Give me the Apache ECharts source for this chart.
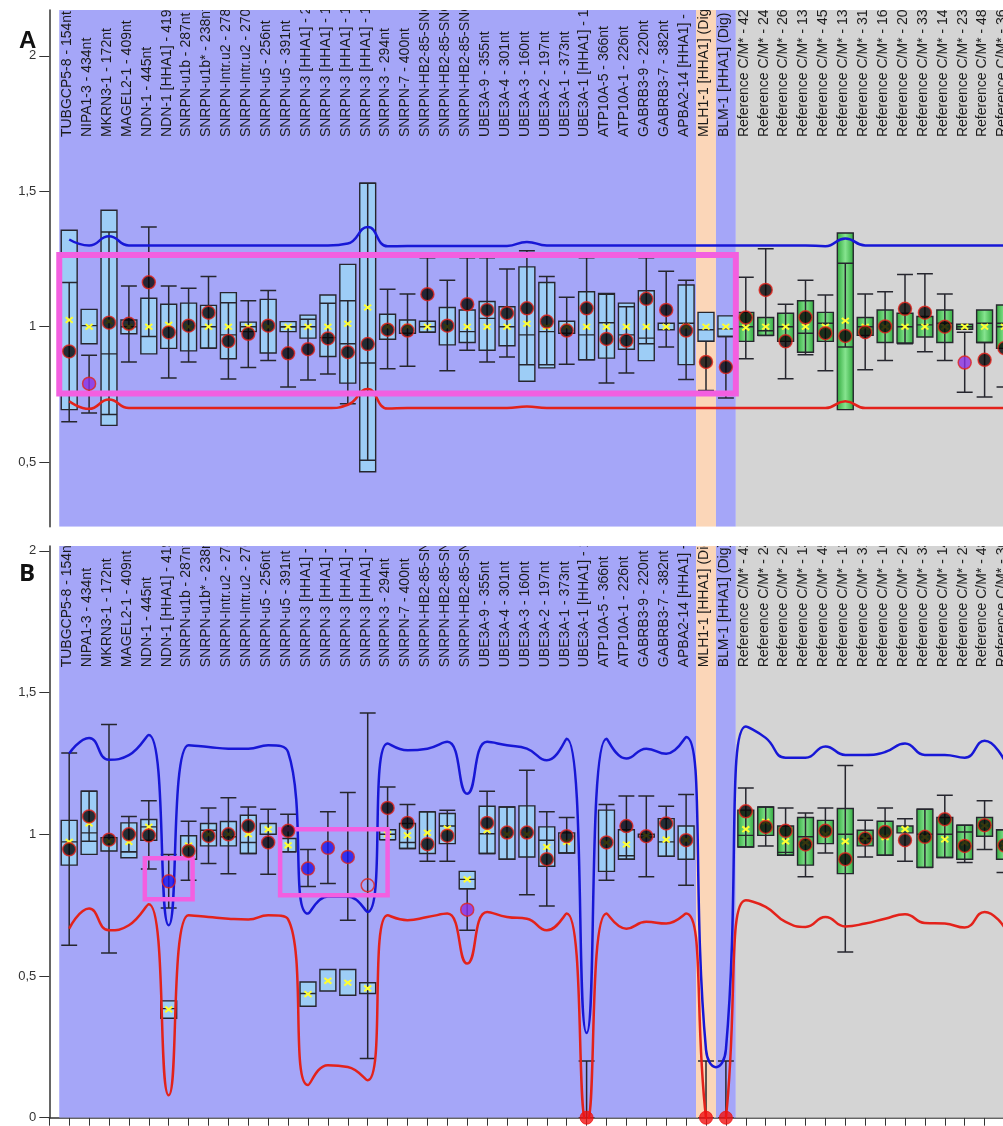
<!DOCTYPE html>
<html>
<head>
<meta charset="utf-8">
<script src="https://cdn.jsdelivr.net/npm/echarts@6/dist/echarts.min.js"></script>
<style>
  html, body { margin: 0; padding: 0; background: #ffffff; }
  #chart { width: 1003px; height: 1126px; }
</style>
</head>
<body>
<div id="chart"></div>
<script>
// Probe names, one per column
const probeLabels = [
  'TUBGCP5-8 - 154nt', 'NIPA1-3 - 434nt', 'MKRN3-1 - 172nt', 'MAGEL2-1 - 409nt',
  'NDN-1 - 445nt', 'NDN-1 [HHA1] - 419nt', 'SNRPN-u1b - 287nt', 'SNRPN-u1b* - 238nt',
  'SNRPN-Intr.u2 - 278nt', 'SNRPN-Intr.u2 - 270nt', 'SNRPN-u5 - 256nt', 'SNRPN-u5 - 391nt',
  'SNRPN-3 [HHA1] - 220nt', 'SNRPN-3 [HHA1] - 175nt', 'SNRPN-3 [HHA1] - 142nt', 'SNRPN-3 [HHA1] - 199nt',
  'SNRPN-3 - 294nt', 'SNRPN-7 - 400nt', 'SNRPN-HB2-85-SNORD116 - 130nt', 'SNRPN-HB2-85-SNORD116 - 166nt',
  'SNRPN-HB2-85-SNORD116 - 184nt', 'UBE3A-9 - 355nt', 'UBE3A-4 - 301nt', 'UBE3A-3 - 160nt',
  'UBE3A-2 - 197nt', 'UBE3A-1 - 373nt', 'UBE3A-1 [HHA1] - 148nt', 'ATP10A-5 - 366nt',
  'ATP10A-1 - 226nt', 'GABRB3-9 - 220nt', 'GABRB3-7 - 382nt', 'APBA2-14 [HHA1] - 337nt',
  'MLH1-1 [HHA1] (Dig) - 463nt', 'BLM-1 [HHA1] (Dig) - 319nt', 'Reference C/M* - 427nt', 'Reference C/M* - 244nt',
  'Reference C/M* - 265nt', 'Reference C/M* - 136nt', 'Reference C/M* - 454nt', 'Reference C/M* - 130nt',
  'Reference C/M* - 315nt', 'Reference C/M* - 160nt', 'Reference C/M* - 202nt', 'Reference C/M* - 337nt',
  'Reference C/M* - 142nt', 'Reference C/M* - 238nt', 'Reference C/M* - 481nt', 'Reference C/M* - 361nt'
];
// t = target probe, d = digestion control, r = reference probe
const probeGroup = [
  't','t','t','t','t','t','t','t','t','t','t','t',
  't','t','t','t','t','t','t','t','t','t','t','t',
  't','t','t','t','t','t','t','t','d','t','r','r',
  'r','r','r','r','r','r','r','r','r','r','r','r'
];

// ---- Sample A ----
const aBoxLow = [0.694,0.937,0.636,0.974,0.900,0.920,0.911,0.921,0.882,0.982,0.903,0.982,
                 0.958,0.890,0.792,0.465,0.954,0.976,0.980,0.933,0.942,0.913,0.930,0.799,
                 0.848,0.976,0.878,0.884,0.917,0.875,0.989,0.860,0.946,0.964,0.946,0.968,
                 0.946,0.906,0.946,0.694,0.968,0.942,0.940,0.962,0.942,0.991,0.942,0.920];
const aBoxHigh = [1.356,1.064,1.430,1.025,1.105,1.083,1.087,1.079,1.126,1.017,1.101,1.019,
                  1.043,1.117,1.230,1.530,1.046,1.025,1.020,1.071,1.062,1.093,1.074,1.221,
                  1.163,1.020,1.129,1.123,1.087,1.133,1.013,1.154,1.053,1.040,1.053,1.034,
                  1.050,1.096,1.053,1.346,1.034,1.062,1.050,1.038,1.062,1.009,1.062,1.080];
const aBoxMid = [null,1.004,0.900,1.000,null,null,null,1.000,0.970,1.000,null,1.000,
                 1.000,0.960,0.937,0.866,null,null,1.000,null,0.982,1.031,1.000,0.970,
                 0.982,null,0.970,1.015,0.970,0.958,null,1.013,0.989,0.992,1.000,0.985,
                 1.000,0.976,1.013,null,1.000,null,1.000,1.007,1.013,1.000,1.013,1.013];
const aRangeLow = [0.649,0.682,0.676,0.870,0.964,0.811,0.870,0.921,0.807,0.850,0.875,0.778,
                   0.803,0.826,0.716,0.507,0.845,0.854,0.980,0.838,0.913,0.870,0.888,0.860,
                   0.860,0.862,0.878,0.792,0.829,0.937,0.925,0.805,0.765,0.737,0.882,0.968,
                   0.808,0.897,0.838,0.925,0.841,0.875,0.937,0.908,0.875,0.758,0.741,0.778];
const aRangeHigh = [1.163,0.895,1.350,1.150,1.368,1.150,1.142,1.185,1.089,1.096,1.134,1.000,
                    1.028,1.087,1.096,1.530,1.138,1.121,1.255,1.172,1.255,1.255,1.213,1.280,
                    1.185,1.109,1.255,1.120,1.074,1.255,1.205,1.172,0.946,0.964,1.183,1.288,
                    1.083,1.172,1.117,1.234,1.121,1.129,1.193,1.196,1.121,0.980,0.942,1.000];
const aMean = [1.025,1.000,1.020,1.000,1.000,1.007,1.000,1.000,1.000,1.000,1.000,1.000,
               1.000,1.000,1.011,1.071,1.000,1.000,1.000,1.000,1.000,1.000,1.000,1.011,
               1.000,1.000,1.000,1.000,1.000,1.000,1.000,1.000,1.000,1.000,0.997,1.000,
               1.000,1.000,1.000,1.022,1.000,1.000,1.000,1.000,1.000,1.000,1.000,1.000];
const aSample = [0.909,0.790,1.015,1.011,1.164,0.979,1.004,1.052,0.947,0.974,1.004,0.902,
                 0.917,0.957,0.906,0.936,0.989,0.986,1.120,1.004,1.083,1.062,1.050,1.068,
                 1.019,0.986,1.068,0.955,0.949,1.103,1.062,0.986,0.870,0.851,1.034,1.136,
                 0.946,1.035,0.976,0.966,0.980,1.001,1.066,1.052,1.000,0.868,0.878,0.921];
// k = normal, p = flagged, b = low, o = unreliable, r = no signal
const aSampleKind = ('kpkkkkkkkkkk' + 'kkkkkkkkkkkk' + 'kkkkkkkkkkkk' + 'kkkkkkkkkpkk').split('');
const aUpperLimit = [1.322,1.300,1.334,1.300,1.300,1.300,1.300,1.300,1.300,1.300,1.300,1.300,
                     1.300,1.300,1.307,1.368,1.297,1.298,1.298,1.298,1.298,1.298,1.298,1.313,
                     1.300,1.300,1.300,1.300,1.300,1.300,1.300,1.300,1.300,1.300,1.300,1.300,
                     1.300,1.300,1.297,1.326,1.300,1.300,1.300,1.300,1.300,1.300,1.300,1.300];
const aLowerLimit = [0.725,0.697,0.731,0.700,0.700,0.700,0.700,0.700,0.700,0.700,0.700,0.700,
                     0.700,0.700,0.712,0.770,0.698,0.700,0.700,0.700,0.700,0.700,0.700,0.706,
                     0.700,0.700,0.700,0.700,0.700,0.700,0.700,0.700,0.700,0.700,0.700,0.700,
                     0.700,0.700,0.700,0.725,0.700,0.700,0.700,0.700,0.700,0.700,0.700,0.700];
const aHighlights = [{ from: 0.5, to: 34.5, low: 0.754, high: 1.265 }];

// ---- Sample B ----
const bBoxLow = [0.891,0.929,0.941,0.917,0.979,0.351,0.912,0.959,0.959,0.932,1.000,0.938,
                 0.393,0.447,0.432,0.438,0.981,0.950,0.932,0.967,0.808,0.932,0.912,0.920,
                 0.887,0.934,null,0.869,0.912,0.990,0.922,0.912,null,null,0.955,0.996,
                 0.926,0.891,0.967,0.861,0.959,0.926,1.005,0.883,0.918,0.912,0.993,0.912];
const bBoxHigh = [1.049,1.152,0.988,1.040,1.052,0.412,0.995,1.038,1.045,1.067,1.038,0.985,
                  0.479,0.523,0.523,0.476,1.016,1.038,1.079,1.073,0.869,1.099,1.096,1.100,
                  1.026,1.005,null,1.085,1.016,1.000,1.055,1.029,null,null,1.085,1.096,
                  1.029,1.059,1.049,1.091,1.014,1.046,1.029,1.088,1.059,1.032,1.059,1.016];
const bBoxMid = [0.973,1.005,null,0.938,1.026,0.385,null,1.014,0.991,0.971,null,null,
                 0.438,null,null,null,1.000,0.971,null,1.029,0.841,1.002,null,null,
                 0.979,null,null,null,0.924,null,0.973,null,null,null,0.996,null,
                 0.936,0.991,null,1.000,0.985,null,null,1.000,1.000,1.008,null,null];
const bRangeLow = [0.608,0.975,0.581,0.938,0.877,0.740,0.838,0.897,0.861,0.932,0.859,0.938,
                   0.816,0.826,0.697,0.209,0.981,0.950,0.905,0.905,0.661,0.932,0.912,0.787,
                   0.747,0.934,0.000,0.838,0.912,0.850,0.922,0.820,0.000,0.000,0.955,0.959,
                   0.926,0.850,0.934,0.585,0.920,0.926,0.905,0.883,0.918,0.900,0.946,0.865];
const bRangeHigh = [1.287,1.152,1.387,1.063,1.118,0.929,1.046,1.093,1.129,1.096,1.088,1.071,
                    0.946,1.079,1.147,1.428,1.167,1.105,1.079,1.085,0.808,1.152,1.096,1.226,
                    1.079,1.059,0.200,1.105,1.135,1.135,1.099,1.140,0.200,0.200,1.163,1.096,
                    1.093,1.075,1.093,1.243,1.049,1.093,1.055,1.088,1.138,1.032,1.118,1.016];
const bMean = [0.973,1.038,0.975,0.973,1.026,0.382,0.960,1.000,1.000,1.000,1.017,0.961,
               0.436,0.483,0.476,0.456,1.000,0.996,1.005,1.020,0.841,1.014,1.000,1.000,
               0.955,0.973,null,0.970,0.964,0.995,0.981,0.980,null,null,1.018,1.044,
               0.975,0.970,1.000,0.975,0.985,0.990,1.018,0.990,0.982,0.970,1.030,0.960];
const bSample = [0.947,1.063,0.981,1.000,0.996,0.834,0.941,0.994,1.000,1.029,0.971,1.012,
                 0.879,0.952,0.920,0.820,1.093,1.040,0.965,0.995,0.734,1.040,1.006,1.006,
                 0.912,0.993,0.000,0.971,1.029,0.993,1.038,0.979,0.000,0.000,1.081,1.026,
                 1.012,0.964,1.012,0.912,0.985,1.008,0.979,0.991,1.053,0.959,1.032,0.961];
const bSampleKind = ('kkkkkbkkkkkk' + 'bbbokkkkpkkk' + 'kkrkkkkkrrkk' + 'kkkkkkkkkkkk').split('');
const bUpperLimit = [1.285,1.340,1.263,1.279,1.350,0.679,1.314,1.308,1.302,1.302,1.314,1.290,
                     0.720,0.780,0.780,0.726,1.320,1.296,1.302,1.326,1.143,1.326,1.314,1.302,
                     1.261,1.337,0.299,1.337,1.267,1.302,1.284,1.343,0.240,0.240,1.380,1.340,
                     1.270,1.270,1.310,1.280,1.280,1.290,1.320,1.280,1.280,1.270,1.330,1.260];
const bUpperBetween = [[33.5, 0.178]];
const bLowerLimit = [0.667,0.738,0.661,0.679,0.753,0.079,0.714,0.708,0.702,0.699,0.714,0.700,
                     0.115,0.185,0.179,0.132,0.714,0.697,0.708,0.720,0.544,0.726,0.708,0.702,
                     0.661,0.720,-0.020,0.720,0.667,0.691,0.685,0.720,0.000,0.000,0.767,0.744,
                     0.691,0.673,0.708,0.675,0.685,0.702,0.718,0.687,0.685,0.671,0.726,0.671];
const bLowerBetween = [[33.5, -0.200]];
const bHighlights = [
  { from: 4.8, to: 7.2, low: 0.771, high: 0.915 },
  { from: 11.6, to: 17.0, low: 0.785, high: 1.018 }
];

const yTicks = [0.5, 1, 1.5, 2];
const X_MAX = 49;

// ---- styling ----
const FONT = '"Liberation Sans", Arial, Helvetica, sans-serif';
const groupColor = { t: '#a5a6f8', d: '#fbd6b8', r: '#d4d4d4' };
const INK = '#26262e';
const PINK = '#f35fe0';
const dotStyle = {
  k: { color: '#050505', borderColor: '#e2231c', borderWidth: 1.5 },
  p: { color: '#8a2fe4', borderColor: '#e2231c', borderWidth: 1.5 },
  b: { color: '#1515ee', borderColor: '#e2231c', borderWidth: 1.5 },
  o: { color: 'rgba(0,0,0,0)', borderColor: '#e2231c', borderWidth: 1.5 },
  r: { color: '#f01212', borderColor: '#f01212', borderWidth: 1 }
};

const panels = [
  { grid: { left: 49.3, top: 10, width: 19.9 * X_MAX, height: 516.7, outerBoundsMode: 'none' },
    yMin: 0.262, yMax: 2.169, showX: false, labelBase: 1.70, pinkWidth: 6,
    boxLow: aBoxLow, boxHigh: aBoxHigh, boxMid: aBoxMid, rangeLow: aRangeLow, rangeHigh: aRangeHigh,
    mean: aMean, sample: aSample, kind: aSampleKind, upper: aUpperLimit, upperExtra: [],
    lower: aLowerLimit, lowerExtra: [], highlights: aHighlights },
  { grid: { left: 49.3, top: 546, width: 19.9 * X_MAX, height: 571.7, outerBoundsMode: 'none' },
    yMin: 0, yMax: 2.017, showX: true, labelBase: 1.589, pinkWidth: 4.5,
    boxLow: bBoxLow, boxHigh: bBoxHigh, boxMid: bBoxMid, rangeLow: bRangeLow, rangeHigh: bRangeHigh,
    mean: bMean, sample: bSample, kind: bSampleKind, upper: bUpperLimit, upperExtra: bUpperBetween,
    lower: bLowerLimit, lowerExtra: bLowerBetween, highlights: bHighlights }
];

// contiguous runs of the same probe group, as [start, end, group] in axis units
function groupRuns() {
  const runs = [];
  let start = 0;
  for (let i = 1; i <= probeGroup.length; i++) {
    if (i === probeGroup.length || probeGroup[i] !== probeGroup[start]) {
      runs.push([start + 0.5, i + 0.5, probeGroup[start]]);
      start = i;
    }
  }
  runs[runs.length - 1][1] = X_MAX;
  return runs;
}
const runs = groupRuns();
const positions = probeLabels.map((_, i) => [i + 1, 1]);

const greenFill = new echarts.graphic.LinearGradient(0, 0, 1, 0, [
  { offset: 0, color: '#2ea83b' }, { offset: 0.5, color: '#86e48f' }, { offset: 1, color: '#2ea83b' }
]);

function line(x1, y1, x2, y2, stroke, w) {
  return { type: 'line', shape: { x1, y1, x2, y2 }, style: { stroke, lineWidth: w } };
}

function boxRenderer(P) {
  return function (params, api) {
    const i = params.dataIndex;
    const pos = api.value(0);
    const w = api.size([1, 0])[0] * 0.8;
    const h = w / 2;
    const cx = api.coord([pos, 1])[0];
    const y = v => api.coord([pos, v])[1];
    const kids = [];
    if (P.boxLow[i] != null) {
      const top = y(P.boxHigh[i]), bot = y(P.boxLow[i]);
      kids.push({ type: 'rect', shape: { x: cx - h, y: top, width: w, height: bot - top },
        style: { fill: probeGroup[i] === 'r' ? greenFill : '#9dcdf6', stroke: INK, lineWidth: 1.4 } });
      if (P.boxMid[i] != null) {
        const ym = y(P.boxMid[i]);
        kids.push(line(cx - h, ym, cx + h, ym, INK, 1.4));
      }
    }
    if (P.rangeLow[i] != null) {
      const yh = y(P.rangeHigh[i]), yl = y(P.rangeLow[i]);
      kids.push(line(cx, yh, cx, yl, INK, 1.5));
      kids.push(line(cx - h, yh, cx + h, yh, INK, 1.5));
      kids.push(line(cx - h, yl, cx + h, yl, INK, 1.5));
    }
    if (P.mean[i] != null) {
      const ym = y(P.mean[i]);
      kids.push(line(cx - 3.5, ym - 2.8, cx + 3.5, ym + 2.8, '#ffff30', 2));
      kids.push(line(cx - 3.5, ym + 2.8, cx + 3.5, ym - 2.8, '#ffff30', 2));
    }
    return { type: 'group', children: kids };
  };
}

function curve(values, extra) {
  return values.map((v, i) => [i + 1, v]).concat(extra).sort((a, b) => a[0] - b[0]);
}

const option = {
  animation: false,
  backgroundColor: '#ffffff',
  grid: panels.map(p => p.grid),
  xAxis: panels.map((p, k) => ({
    gridIndex: k, type: 'value', min: 0, max: X_MAX, interval: 1, show: p.showX,
    axisLine: { show: true, onZero: false, lineStyle: { color: '#333', width: 1.5 } },
    axisTick: { show: true, length: 8, lineStyle: { color: '#333', width: 1 } },
    axisLabel: { show: false }, splitLine: { show: false }
  })),
  yAxis: panels.map((p, k) => ({
    gridIndex: k, type: 'value', min: p.yMin, max: p.yMax,
    axisLine: { show: true, onZero: false, lineStyle: { color: '#333', width: 1.5 } },
    axisTick: { show: true, length: 10, customValues: (p.yMin === 0 ? [0] : []).concat(yTicks),
                lineStyle: { color: '#333', width: 1 } },
    axisLabel: { customValues: (p.yMin === 0 ? [0] : []).concat(yTicks), margin: 13,
                 color: '#333', fontSize: 13, fontFamily: FONT,
                 formatter: v => String(v).replace('.', ',') },
    splitLine: { show: false }
  })),
  graphic: [
    { type: 'text', left: 19, top: 29, style: { text: 'A', font: 'bold 24px ' + FONT, fill: '#111' } },
    { type: 'text', left: 19, top: 562, style: { text: 'B', font: 'bold 24px "Open Sans", ' + FONT, fill: '#111' } }
  ],
  series: []
};

panels.forEach((P, k) => {
  const axes = { xAxisIndex: k, yAxisIndex: k };
  // probe-group background bands
  option.series.push(Object.assign({
    type: 'custom', silent: true, z: 1, clip: true,
    data: runs.map(r => [r[0], r[1]]),
    renderItem: (params, api) => {
      const cs = params.coordSys;
      const x0 = api.coord([api.value(0), 1])[0];
      const x1 = api.coord([api.value(1), 1])[0];
      return { type: 'rect', shape: { x: x0, y: cs.y, width: x1 - x0, height: cs.height },
               style: { fill: groupColor[runs[params.dataIndex][2]] } };
    }
  }, axes));
  // probe names
  option.series.push(Object.assign({
    type: 'custom', silent: true, z: 2, clip: true,
    data: positions,
    renderItem: (params, api) => {
      const pt = api.coord([api.value(0), P.labelBase]);
      return { type: 'text', x: pt[0] - 2, y: pt[1], rotation: Math.PI / 2,
               style: { text: probeLabels[params.dataIndex], fill: '#1c1c1c',
                        font: '14px ' + FONT, align: 'left', verticalAlign: 'middle' } };
    }
  }, axes));
  // boxes, ranges and mean markers
  option.series.push(Object.assign({
    type: 'custom', silent: true, z: 3, clip: true,
    data: positions, renderItem: boxRenderer(P)
  }, axes));
  // limit curves
  option.series.push(Object.assign({
    type: 'line', silent: true, z: 4, smooth: 0.5, symbol: 'none', data: curve(P.upper, P.upperExtra),
    lineStyle: { color: '#1717d6', width: 2.5 }
  }, axes));
  option.series.push(Object.assign({
    type: 'line', silent: true, z: 4, smooth: 0.5, symbol: 'none', data: curve(P.lower, P.lowerExtra),
    lineStyle: { color: '#e3221b', width: 2.5 }
  }, axes));
  // highlighted regions
  option.series.push(Object.assign({
    type: 'custom', silent: true, z: 5, clip: true,
    data: P.highlights.map(h => [h.from, h.to, h.low, h.high]),
    renderItem: (params, api) => {
      const p0 = api.coord([api.value(0), api.value(3)]);
      const p1 = api.coord([api.value(1), api.value(2)]);
      return { type: 'rect', shape: { x: p0[0], y: p0[1], width: p1[0] - p0[0], height: p1[1] - p0[1] },
               style: { fill: 'none', stroke: PINK, lineWidth: P.pinkWidth } };
    }
  }, axes));
  // sample values
  option.series.push(Object.assign({
    type: 'scatter', silent: true, z: 6, clip: false, symbolSize: 13,
    data: P.sample.map((v, i) => ({ value: [i + 1, v], itemStyle: dotStyle[P.kind[i]] }))
  }, axes));
});

const chart = echarts.init(document.getElementById('chart'));
chart.setOption(option);
</script>
</body>
</html>
